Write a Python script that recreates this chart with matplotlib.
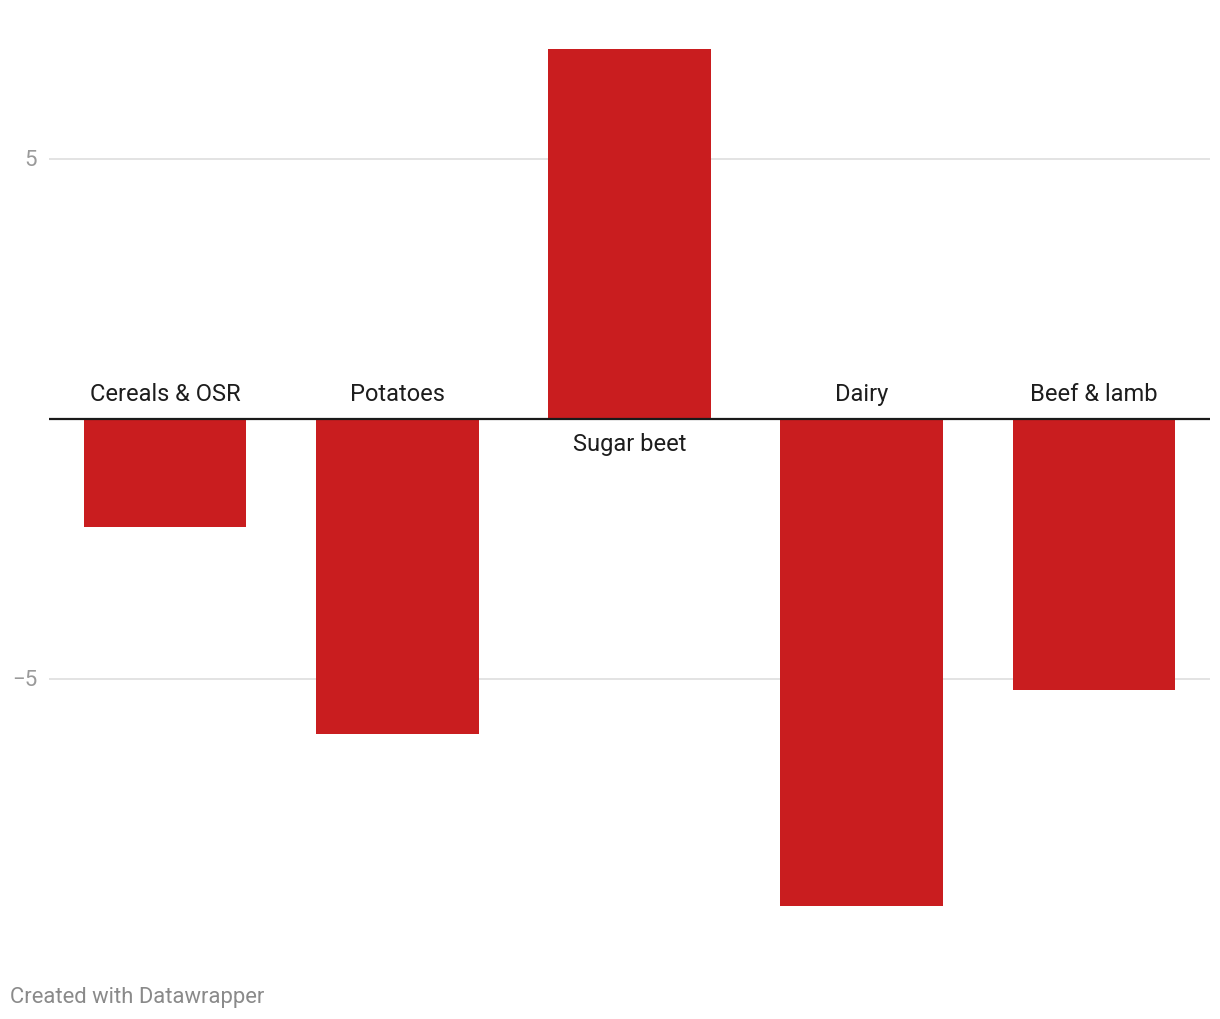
import matplotlib.pyplot as plt

plt.rcParams['font.family'] = ['Roboto', 'DejaVu Sans']

categories = ['Cereals & OSR', 'Potatoes', 'Sugar beet', 'Dairy', 'Beef & lamb']
values = [-2.08, -6.06, 7.12, -9.37, -5.21]
ticks = [-5, 5]
tick_labels = ['\u22125', '5']

W, H = 1220, 1020
fig = plt.figure(figsize=(W / 100, H / 100), dpi=100)

# axes: x from 49 to 1210 px, y range -9.5..7.5 with zero near 418 px, 52 px/unit
zero_px = 420
y_top, y_bot = 7.5, -9.5
top_px = zero_px - 52 * y_top
bot_px = zero_px - 52 * y_bot
ax = fig.add_axes([49 / W, 1 - bot_px / H, (1210 - 49) / W, (bot_px - top_px) / H])
ax.set_xlim(-0.5, len(categories) - 0.5)
ax.set_ylim(y_bot, y_top)

for t in ticks:
    ax.axhline(t, color='#e3e3e3', lw=1.4, zorder=0)

x = range(len(categories))
ax.bar(x, values, width=0.7, color='#c91d1f', zorder=2)
ax.axhline(0, color='#1a1a1a', lw=1.6, zorder=3)

for i, (c, v) in enumerate(zip(categories, values)):
    if v < 0:
        ax.text(i, 0.26, c, ha='center', va='bottom', fontsize=17, color='#1d1d1d')
    else:
        ax.text(i, -0.25, c, ha='center', va='top', fontsize=17, color='#1d1d1d')

for t, lab in zip(ticks, tick_labels):
    ax.text(-12 / 232 - 0.5, t, lab, ha='right', va='center', fontsize=16,
            color='#9a9a9a', clip_on=False)

ax.set_xticks([])
ax.set_yticks([])
for s in ax.spines.values():
    s.set_visible(False)

fig.text(10 / W, 1 - 998 / H, 'Created with Datawrapper', ha='left', va='center',
         fontsize=15.8, color='#8a8a8a')

fig.savefig('out.png', dpi=100, facecolor='white')
